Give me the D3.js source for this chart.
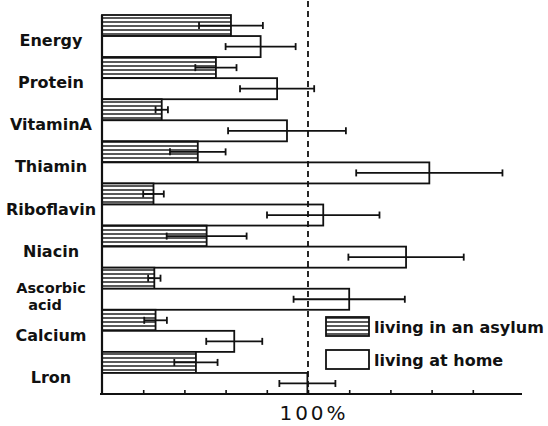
<!DOCTYPE html>
<html>
<head>
<meta charset="utf-8">
<script src="https://cdn.jsdelivr.net/npm/d3@7"></script>
<style>
  html, body { margin: 0; padding: 0; background: #fff; }
  svg { display: block; }
  .label { font-family: "DejaVu Sans", sans-serif; font-weight: bold; font-size: 16px; fill: #111; }
  .label.two { font-size: 14.5px; }
  .legend-text { font-family: "DejaVu Sans", sans-serif; font-weight: bold; font-size: 16px; fill: #111; }
  .ref-text { font-family: "DejaVu Sans", sans-serif; font-size: 20px; letter-spacing: 3px; fill: #111; }
</style>
</head>
<body>
<svg id="chart" width="548" height="426"></svg>
<script>
// Values (% of recommended intake)
const categories = ['Energy', 'Protein', 'VitaminA', 'Thiamin', 'Riboflavin', 'Niacin', 'Ascorbic acid', 'Calcium', 'Lron'];
const series = ['living in an asylum', 'living at home'];
const asylumValues = [62.6, 55.3, 29, 46.5, 25, 50.8, 25.4, 26, 45.6];
const asylumErrors = [15.5, 10, 3, 13.5, 5, 19.4, 3, 5.5, 10.5];
const homeValues = [77, 85, 89.8, 158.9, 107.4, 147.6, 120, 64.2, 99.7];
const homeErrors = [17, 18, 28.6, 35.5, 27.3, 28, 27, 13.6, 13.6];
const tickValues = [20, 40, 60, 80, 100, 120, 140, 160, 180];
const refValue = 100;
const refLabel = '100%';

(function () {
  const svg = d3.select('#chart');

  const x = d3.scaleLinear().domain([0, 200]).range([102, 514]);
  const y = d3.scaleBand().domain(categories).range([15, 394]).padding(0);
  const ySub = d3.scaleBand().domain(series).range([0, y.bandwidth()]).padding(0);

  // Horizontal hatch for the asylum series.
  const defs = svg.append('defs');
  const pat = defs.append('pattern')
    .attr('id', 'hatch')
    .attr('patternUnits', 'userSpaceOnUse')
    .attr('width', 6)
    .attr('height', 4);
  pat.append('rect').attr('width', 6).attr('height', 4).attr('fill', '#fff');
  pat.append('line')
    .attr('x1', 0).attr('x2', 6)
    .attr('y1', 2).attr('y2', 2)
    .attr('stroke', '#111')
    .attr('stroke-width', 1.4);

  const rows = [];
  categories.forEach((c, i) => {
    rows.push({ cat: c, s: series[0], v: asylumValues[i], e: asylumErrors[i] });
    rows.push({ cat: c, s: series[1], v: homeValues[i], e: homeErrors[i] });
  });

  const fillFor = (s) => (s === series[0] ? 'url(#hatch)' : '#fff');

  svg.append('g')
    .selectAll('rect')
    .data(rows)
    .join('rect')
    .attr('x', x(0))
    .attr('y', (d) => y(d.cat) + ySub(d.s))
    .attr('width', (d) => x(d.v) - x(0))
    .attr('height', ySub.bandwidth())
    .attr('fill', (d) => fillFor(d.s))
    .attr('stroke', '#111')
    .attr('stroke-width', 1.8);

  // Error bars
  const eb = svg.append('g').attr('stroke', '#111').attr('stroke-width', 1.8);
  const cy = (d) => y(d.cat) + ySub(d.s) + ySub.bandwidth() / 2;
  eb.selectAll('line.err')
    .data(rows)
    .join('line')
    .attr('class', 'err')
    .attr('x1', (d) => x(d.v - d.e))
    .attr('x2', (d) => x(d.v + d.e))
    .attr('y1', cy)
    .attr('y2', cy);
  eb.selectAll('line.capl')
    .data(rows)
    .join('line')
    .attr('class', 'capl')
    .attr('x1', (d) => x(d.v - d.e))
    .attr('x2', (d) => x(d.v - d.e))
    .attr('y1', (d) => cy(d) - 3.5)
    .attr('y2', (d) => cy(d) + 3.5);
  eb.selectAll('line.capr')
    .data(rows)
    .join('line')
    .attr('class', 'capr')
    .attr('x1', (d) => x(d.v + d.e))
    .attr('x2', (d) => x(d.v + d.e))
    .attr('y1', (d) => cy(d) - 3.5)
    .attr('y2', (d) => cy(d) + 3.5);

  // Axes
  svg.append('line')
    .attr('x1', x(0)).attr('x2', x(0))
    .attr('y1', y.range()[0]).attr('y2', y.range()[1])
    .attr('stroke', '#111').attr('stroke-width', 2.2);

  const axis = svg.append('g')
    .attr('transform', `translate(0,${y.range()[1]})`)
    .call(d3.axisBottom(x).tickValues(tickValues).tickSize(-4).tickFormat(''));
  axis.select('.domain').remove();
  axis.selectAll('.tick line').attr('stroke', '#111').attr('stroke-width', 1.6);
  svg.append('line')
    .attr('x1', x(0) - 2).attr('x2', 522)
    .attr('y1', y.range()[1]).attr('y2', y.range()[1])
    .attr('stroke', '#111').attr('stroke-width', 2);

  // 100% reference line
  svg.append('line')
    .attr('x1', x(refValue)).attr('x2', x(refValue))
    .attr('y1', 1).attr('y2', y.range()[1])
    .attr('stroke', '#111')
    .attr('stroke-width', 1.8)
    .attr('stroke-dasharray', '6,4');

  svg.append('text')
    .attr('class', 'ref-text')
    .attr('x', x(refValue) + 6)
    .attr('y', 420)
    .attr('text-anchor', 'middle')
    .text(refLabel);

  // Category labels (two-line label written as two texts)
  const lab = svg.append('g');
  categories.forEach((c) => {
    const parts = c === 'Ascorbic acid' ? ['Ascorbic', 'acid'] : [c];
    const mid = y(c) + y.bandwidth() / 2;
    parts.forEach((p, j) => {
      lab.append('text')
        .attr('class', parts.length > 1 ? 'label two' : 'label')
        .attr('text-anchor', 'middle')
        .attr('x', j ? 45 : 51)
        .attr('y', parts.length > 1 ? mid + 4 + j * 17 : mid + 10)
        .text(p);
    });
  });

  // Legend
  const legend = svg.append('g');
  series.forEach((s, i) => {
    const ly = i === 0 ? 317 : 350;
    legend.append('rect')
      .attr('x', 326).attr('y', ly)
      .attr('width', 43).attr('height', 19)
      .attr('fill', fillFor(s))
      .attr('stroke', '#111')
      .attr('stroke-width', 1.8);
    legend.append('text')
      .attr('class', 'legend-text')
      .attr('x', 374)
      .attr('y', ly + 16)
      .text(s);
  });
})();
</script>
</body>
</html>
